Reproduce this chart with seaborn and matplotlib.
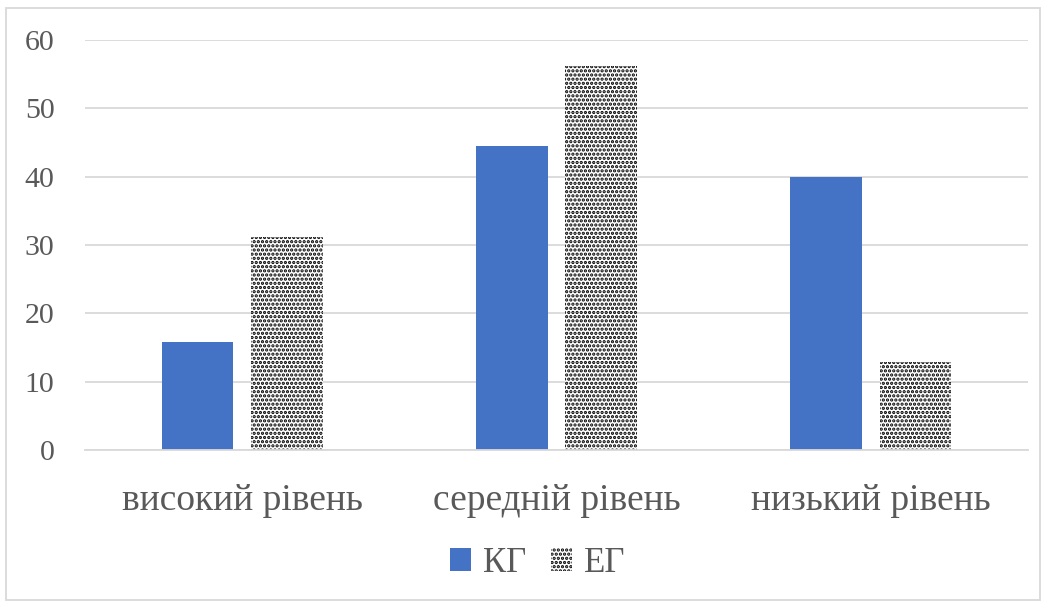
import matplotlib
matplotlib.use("Agg")
import matplotlib.pyplot as plt
import seaborn as sns
import pandas as pd
from matplotlib.patches import Rectangle

categories = ["високий рівень", "середній рівень", "низький рівень"]
groups = ["КГ", "ЕГ"]
kg_values = [15.8, 44.5, 40.0]
eg_values = [31.2, 56.2, 12.9]
y_ticks = [0, 10, 20, 30, 40, 50, 60]

df = pd.DataFrame({
    "category": categories * 2,
    "group": [groups[0]] * 3 + [groups[1]] * 3,
    "value": kg_values + eg_values,
})

sns.set_theme(style="white")
plt.rcParams["font.family"] = ["Liberation Serif", "DejaVu Serif"]
plt.rcParams["hatch.linewidth"] = 1.6
plt.rcParams["hatch.color"] = "black"

text_color = "#595959"
grid_color = "#d9d9d9"
dot_hatch = "...."

fig = plt.figure(figsize=(10.46, 6.02), dpi=100)
ax = fig.add_axes([85 / 1046, 1 - 450 / 602, 943 / 1046, 410 / 602])

sns.barplot(data=df, x="category", y="value", hue="group",
            palette={"КГ": "#4472c4", "ЕГ": "white"},
            width=0.57, gap=0.2, ax=ax, legend=False, saturation=1)

# KG bars solid, EG bars dotted
for i, patch in enumerate(ax.patches):
    if i < 3:
        patch.set_edgecolor("#4472c4")
        patch.set_linewidth(0)
    else:
        patch.set_facecolor("white")
        patch.set_edgecolor("black")
        patch.set_hatch(dot_hatch)
        patch.set_linewidth(0)

ax.set_xlim(-0.5, 2.5)
ax.set_ylim(0, 60)
ax.set_yticks(y_ticks)
ax.yaxis.grid(True, color=grid_color, linewidth=1.3)
ax.set_axisbelow(True)
for side in ["left", "right", "top"]:
    ax.spines[side].set_visible(False)
ax.spines["bottom"].set_color(grid_color)
ax.spines["bottom"].set_linewidth(1.3)
ax.tick_params(axis="y", length=0, pad=22, labelsize=21.5, labelcolor=text_color)
ax.tick_params(axis="x", length=0, pad=24, labelsize=27, labelcolor=text_color)
ax.set_xlabel("")
ax.set_ylabel("")

# legend
kg_handle = Rectangle((0, 0), 1, 1, facecolor="#4472c4", edgecolor="#4472c4", linewidth=0)
eg_handle = Rectangle((0, 0), 1, 1, facecolor="white", edgecolor="black", hatch=dot_hatch, linewidth=0)
fig.legend([kg_handle, eg_handle], groups, loc="center", bbox_to_anchor=(538 / 1046, 1 - 563 / 602),
           ncol=2, frameon=False, fontsize=25, labelcolor=text_color,
           handlelength=0.6, handleheight=0.65, handletextpad=0.35, columnspacing=0.7)

# chart border
fig.add_artist(Rectangle((6 / 1046, 2 / 602), 1034 / 1046, 592 / 602, transform=fig.transFigure,
                         fill=False, edgecolor=grid_color, linewidth=1.3))

fig.savefig("out.png", dpi=100)
